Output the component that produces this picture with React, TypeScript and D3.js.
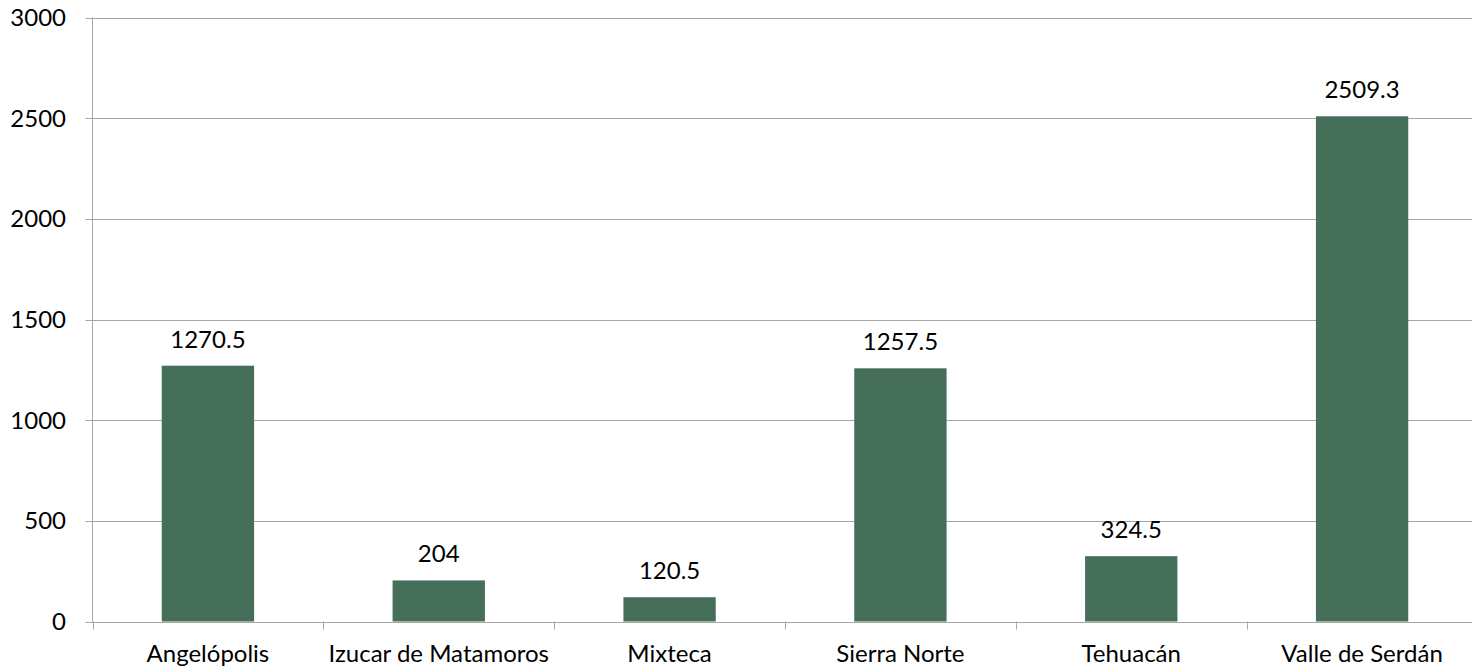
import React from "react";
import * as d3 from "d3";

const categories = ["Angelópolis", "Izucar de Matamoros", "Mixteca", "Sierra Norte", "Tehuacán", "Valle de Serdán"];
const values = [1270.5, 204, 120.5, 1257.5, 324.5, 2509.3];
const valueLabels = ["1270.5", "204", "120.5", "1257.5", "324.5", "2509.3"];
const yTicks = [0, 500, 1000, 1500, 2000, 2500, 3000];

const W = 1472;
const H = 672;
const left = 92.5;
const right = 1477.5;
const top = 17.5;
const bottom = 621.5;
const font = "Lato, 'Open Sans', sans-serif";
const fs = 24;

export default function App() {
  const x = d3.scaleBand<string>().domain(categories).range([left, right]).paddingInner(0.6).paddingOuter(0.3);
  const step = (right - left) / categories.length;
  const y = d3.scaleLinear().domain([0, 3000]).range([bottom, top]);
  const gridColor = "#a6a6a6";
  return (
    <svg width={W} height={H} style={{ position: "absolute", left: 0, top: 0 }}>
      <rect width={W} height={H} fill="#fff" />
      {yTicks.map((t) => (
        <g key={t}>
          <line x1={left - 7} x2={W} y1={Math.round(y(t)) + 0.5} y2={Math.round(y(t)) + 0.5} stroke={gridColor} strokeWidth={1} />
          <text x={66} y={y(t)} dy="0.36em" textAnchor="end" fontFamily={font} fontSize={fs} fill="#000">{t}</text>
        </g>
      ))}
      <line x1={left} x2={left} y1={top} y2={bottom} stroke={gridColor} strokeWidth={1} />
      {d3.range(categories.length + 1).map((i) => (
        <line key={i} x1={Math.round(left + i * step) + 0.5} x2={Math.round(left + i * step) + 0.5} y1={bottom} y2={bottom + 8} stroke={gridColor} strokeWidth={1} />
      ))}
      {categories.map((c, i) => (
        <g key={c}>
          <rect x={x(c)!} y={y(values[i])} width={x.bandwidth()} height={bottom - y(values[i])} fill="#466f5a" />
          <text x={x(c)! + x.bandwidth() / 2} y={y(values[i]) - 18} textAnchor="middle" fontFamily={font} fontSize={fs} fill="#000">{valueLabels[i]}</text>
          <text x={x(c)! + x.bandwidth() / 2} y={662} textAnchor="middle" fontFamily={font} fontSize={fs} fill="#000">{c}</text>
        </g>
      ))}
    </svg>
  );
}
